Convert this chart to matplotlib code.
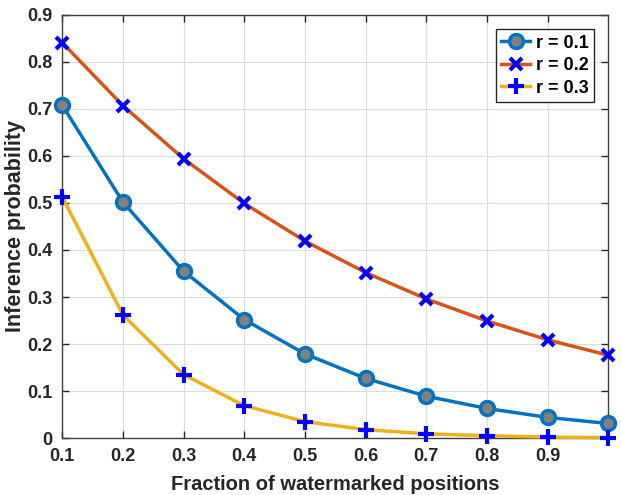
import matplotlib
matplotlib.use("Agg")
import matplotlib.pyplot as plt
import numpy as np

plt.rcParams['font.family'] = ['Liberation Sans', 'DejaVu Sans']
plt.rcParams['font.weight'] = 'bold'

frac = [0.1, 0.2, 0.3, 0.4, 0.5, 0.6, 0.7, 0.8, 0.9, 1.0]
r01 = [0.708, 0.502, 0.355, 0.252, 0.179, 0.127, 0.089, 0.063, 0.044, 0.031]
r02 = [0.841, 0.707, 0.594, 0.499, 0.419, 0.352, 0.296, 0.249, 0.209, 0.176]
r03 = [0.513, 0.262, 0.135, 0.069, 0.035, 0.018, 0.009, 0.005, 0.002, 0.001]

xticks = [0.1, 0.2, 0.3, 0.4, 0.5, 0.6, 0.7, 0.8, 0.9]
yticks = [0, 0.1, 0.2, 0.3, 0.4, 0.5, 0.6, 0.7, 0.8, 0.9]

fig = plt.figure(figsize=(6.22, 4.95), dpi=100)
ax = fig.add_axes([0.1, 0.115, 0.878, 0.855])

ax.plot(frac, r01, '-o', color='#0072BD', lw=2.5, ms=10, mfc='#808080',
        mec='#0072BD', mew=2.5, label='r = 0.1', clip_on=False, zorder=3)
ax.plot(frac, r02, '-x', color='#D95319', lw=2.5, ms=9, mec='blue',
        mew=3, label='r = 0.2', clip_on=False, zorder=3)
ax.plot(frac, r03, '-+', color='#EDB120', lw=2.5, ms=11, mec='blue',
        mew=3, label='r = 0.3', clip_on=False, zorder=3)

ax.set_xlim(0.1, 1.0)
ax.set_ylim(0, 0.9)
ax.set_xticks(xticks)
ax.set_yticks(yticks)
ax.set_xticklabels([f'{t:g}' for t in xticks])
ax.set_yticklabels([f'{t:g}' for t in yticks])
ax.tick_params(labelsize=13, direction='in', top=True, right=True,
               length=5, width=1, colors='#262626', pad=7)
ax.grid(True, color='#dcdcdc', lw=0.8)
ax.set_axisbelow(True)
for s in ax.spines.values():
    s.set_color('#404040')
    s.set_linewidth(1)

ax.set_xlabel('Fraction of watermarked positions', fontsize=14.5,
              fontweight='bold', color='#262626', labelpad=7)
ax.set_ylabel('Inference probability', fontsize=15.5, fontweight='bold',
              color='#262626', labelpad=1)

leg = ax.legend(loc='upper right', fontsize=13, fancybox=False,
                edgecolor='#262626', framealpha=1, handlelength=1.6,
                borderpad=0.3, labelspacing=0.3, handletextpad=0.3,
                borderaxespad=0.8)
leg.get_frame().set_linewidth(1)

fig.savefig('out.png', dpi=100)
